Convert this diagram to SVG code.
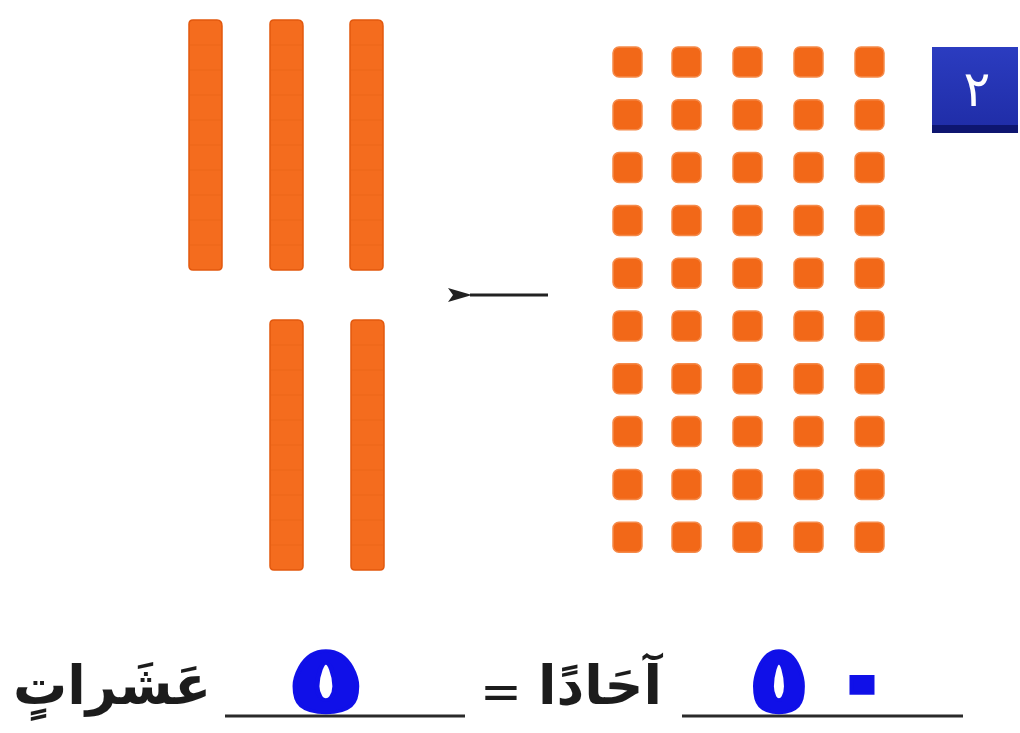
<svg xmlns="http://www.w3.org/2000/svg" width="1020" height="733" viewBox="0 0 1020 733">
<style>
.rod{fill:#f46c1e;stroke:#e2580e;stroke-width:1.5}
.seg{stroke:#e0600f;stroke-width:1;opacity:0.35}
.unit{fill:#f26818;stroke:#f58a4a;stroke-width:1.5}
.ar{font-family:"DejaVu Sans","Noto Sans",sans-serif;fill:#1c1c1c}
.blue{font-family:"DejaVu Sans","Noto Sans",sans-serif;fill:#1010e8;stroke:#1010e8;stroke-width:3.5;font-weight:bold}
.uline{stroke:#2a2a2a;stroke-width:3}
</style>
<defs>
<g id="rodShape">
<path class="rod" d="M0,4 Q0,0 4,0 L28,0 Q33,0 33,6 L33,246 Q33,250 29,250 L4,250 Q0,250 0,246 Z"/>
<path class="seg" d="M1,25H32M1,50H32M1,75H32M1,100H32M1,125H32M1,150H32M1,175H32M1,200H32M1,225H32"/>
</g>
<rect id="unitShape" class="unit" x="0" y="0" width="29" height="30" rx="6"/>
<marker id="ah" viewBox="0 0 24 16" refX="2" refY="8" markerWidth="24" markerHeight="16" orient="auto" markerUnits="userSpaceOnUse">
<path d="M24,1 L0,8 L24,15 L19,8 Z" fill="#222"/>
</marker>
<linearGradient id="bg" x1="0" y1="0" x2="0" y2="1">
<stop offset="0" stop-color="#2b3cc0"/>
<stop offset="1" stop-color="#1f2ca6"/>
</linearGradient>
</defs>
<rect width="1020" height="733" fill="#ffffff"/>
<g id="tens">
<g id="rod1"><use href="#rodShape" x="189" y="20"/></g>
<g id="rod2"><use href="#rodShape" x="270" y="20"/></g>
<g id="rod3"><use href="#rodShape" x="350" y="20"/></g>
<g id="rod4"><use href="#rodShape" x="270" y="320"/></g>
<g id="rod5"><use href="#rodShape" x="351" y="320"/></g>
</g>
<g id="ones">
<use href="#unitShape" x="613" y="47"/><use href="#unitShape" x="672" y="47"/><use href="#unitShape" x="733" y="47"/><use href="#unitShape" x="794" y="47"/><use href="#unitShape" x="855" y="47"/>
<use href="#unitShape" x="613" y="99.8"/><use href="#unitShape" x="672" y="99.8"/><use href="#unitShape" x="733" y="99.8"/><use href="#unitShape" x="794" y="99.8"/><use href="#unitShape" x="855" y="99.8"/>
<use href="#unitShape" x="613" y="152.6"/><use href="#unitShape" x="672" y="152.6"/><use href="#unitShape" x="733" y="152.6"/><use href="#unitShape" x="794" y="152.6"/><use href="#unitShape" x="855" y="152.6"/>
<use href="#unitShape" x="613" y="205.4"/><use href="#unitShape" x="672" y="205.4"/><use href="#unitShape" x="733" y="205.4"/><use href="#unitShape" x="794" y="205.4"/><use href="#unitShape" x="855" y="205.4"/>
<use href="#unitShape" x="613" y="258.2"/><use href="#unitShape" x="672" y="258.2"/><use href="#unitShape" x="733" y="258.2"/><use href="#unitShape" x="794" y="258.2"/><use href="#unitShape" x="855" y="258.2"/>
<use href="#unitShape" x="613" y="311"/><use href="#unitShape" x="672" y="311"/><use href="#unitShape" x="733" y="311"/><use href="#unitShape" x="794" y="311"/><use href="#unitShape" x="855" y="311"/>
<use href="#unitShape" x="613" y="363.8"/><use href="#unitShape" x="672" y="363.8"/><use href="#unitShape" x="733" y="363.8"/><use href="#unitShape" x="794" y="363.8"/><use href="#unitShape" x="855" y="363.8"/>
<use href="#unitShape" x="613" y="416.6"/><use href="#unitShape" x="672" y="416.6"/><use href="#unitShape" x="733" y="416.6"/><use href="#unitShape" x="794" y="416.6"/><use href="#unitShape" x="855" y="416.6"/>
<use href="#unitShape" x="613" y="469.4"/><use href="#unitShape" x="672" y="469.4"/><use href="#unitShape" x="733" y="469.4"/><use href="#unitShape" x="794" y="469.4"/><use href="#unitShape" x="855" y="469.4"/>
<use href="#unitShape" x="613" y="522.2"/><use href="#unitShape" x="672" y="522.2"/><use href="#unitShape" x="733" y="522.2"/><use href="#unitShape" x="794" y="522.2"/><use href="#unitShape" x="855" y="522.2"/>
</g>
<g id="badge">
<rect x="932" y="47" width="86" height="86" fill="url(#bg)"/>
<rect x="932" y="125" width="86" height="8" fill="#0e1670"/>
<text x="977" y="106" font-family="DejaVu Sans, sans-serif" font-size="50" fill="#ffffff" text-anchor="middle">٢</text>
</g>
<g id="connectors">
<line x1="548" y1="295" x2="470" y2="295" stroke="#222" stroke-width="3" marker-end="url(#ah)"/>
</g>
<g id="equation">
<text class="ar" x="112" y="704" font-size="54" font-weight="bold" text-anchor="middle" direction="rtl">عَشَراتٍ</text>
<line class="uline" x1="225" y1="716" x2="465" y2="716"/>
<text class="blue" transform="translate(326,712) scale(1.35,1)" x="0" y="0" font-size="95" text-anchor="middle">٥</text>
<text class="ar" x="501" y="709" font-size="50" text-anchor="middle">=</text>
<text class="ar" x="600" y="704" font-size="54" font-weight="bold" text-anchor="middle" direction="rtl">آحَادًا</text>
<line class="uline" x1="682" y1="716" x2="963" y2="716"/>
<text class="blue" transform="translate(779,712) scale(1.05,1)" x="0" y="0" font-size="95" text-anchor="middle">٥</text>
<text class="blue" transform="translate(862,712) scale(1.25,1)" x="0" y="0" font-size="95" text-anchor="middle">٠</text>
</g>
</svg>
